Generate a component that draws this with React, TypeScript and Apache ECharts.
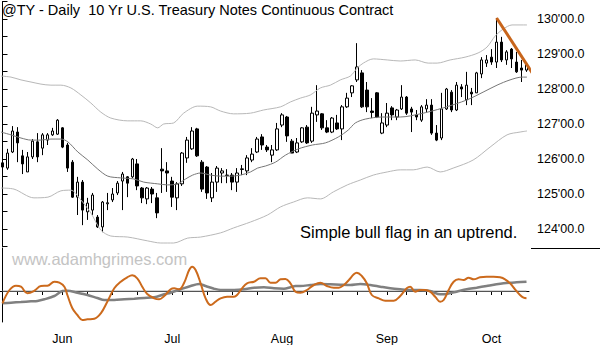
import React, { useEffect, useRef } from "react";
import * as echarts from "echarts";

// ---- daily bars (index 0 = first visible session) ----
const barOpen = [
  125.89, 125.74, 126.2, 126.77, 126.09, 125.63, 126.06, 126.49, 126.31, 126.54,
  126.69, 126.71, 126.89, 126.4, 125.91, 124.91, 125.34, 124.49, 124.54, 124.34,
  124.06, 124.72, 124.83, 125.03, 125.37, 125.49, 125.49, 125.86, 125.17, 124.86,
  125.14, 124.89, 125.71, 125.66, 125.37, 124.89, 125.29, 126.03, 126.29, 126.86,
  125.91, 125.77, 124.89, 125.34, 125.6, 125.54, 125.54, 125.34, 125.7, 125.66,
  125.97, 126.2, 126.63, 126.34, 126.11, 126.26, 126.97, 127.2, 126.51, 126.2,
  126.49, 126.91, 126.51, 127.26, 127.29, 126.89, 126.77, 127.03, 126.86, 127.49,
  127.89, 128.26, 128.46, 127.97, 127.37, 127.89, 126.74, 126.97, 127.46, 127.2,
  127.43, 127.77, 127.43, 127.26, 127.11, 127.43, 127.54, 126.74, 126.6, 127.43,
  127.91, 127.4, 128.06, 127.69, 127.91, 127.89, 128.43, 128.74, 128.91, 128.77,
  129.34, 128.83, 129.14, 128.77, 128.6, 128.54,
];
const barClose = [
  125.77, 126.17, 126.8, 126.46, 125.86, 126.06, 126.51, 126.06, 126.69, 126.69,
  126.8, 127.11, 126.34, 125.74, 124.91, 125.34, 124.54, 124.74, 124.97, 124.06,
  124.77, 124.75, 125.0, 125.31, 125.57, 125.31, 126.0, 125.23, 124.89, 125.17,
  125.0, 124.46, 125.66, 125.6, 124.91, 125.29, 126.17, 126.54, 126.8, 126.09,
  125.14, 125.03, 125.34, 125.74, 125.66, 125.53, 125.34, 125.6, 125.72, 126.03,
  126.14, 126.57, 126.4, 126.26, 126.26, 126.86, 127.26, 126.66, 126.17, 126.46,
  126.89, 126.46, 127.31, 127.37, 126.89, 126.77, 127.17, 126.86, 127.49, 127.74,
  128.09, 128.63, 127.49, 127.49, 127.33, 127.2, 127.03, 127.31, 127.26, 127.4,
  127.77, 127.31, 127.34, 127.2, 127.49, 127.54, 126.74, 126.54, 127.43, 128.0,
  127.4, 128.11, 128.0, 128.11, 127.86, 128.46, 128.83, 128.83, 128.77, 129.34,
  128.83, 129.06, 128.86, 128.49, 128.54, 128.69,
];
const barLow = [
  125.69, 125.69, 126.17, 125.91, 125.57, 125.63, 126.0, 125.91, 126.11, 126.4,
  126.66, 126.69, 126.31, 125.63, 124.89, 124.4, 124.11, 124.26, 124.4, 124.03,
  123.91, 124.54, 124.77, 124.97, 124.54, 124.91, 125.46, 125.11, 124.74, 124.71,
  124.74, 124.31, 125.03, 125.06, 124.63, 124.54, 125.23, 125.89, 126.26, 126.06,
  125.06, 124.86, 124.77, 125.06, 125.31, 125.31, 125.11, 125.06, 125.54, 125.54,
  125.91, 126.17, 126.26, 126.2, 125.91, 126.23, 126.91, 126.49, 126.17, 126.17,
  126.46, 126.43, 126.46, 127.06, 126.83, 126.74, 126.74, 126.83, 126.54, 127.46,
  127.77, 128.2, 127.46, 127.34, 127.17, 127.17, 126.71, 126.91, 127.11, 127.11,
  127.4, 127.26, 126.77, 127.11, 127.06, 127.34, 126.69, 126.51, 126.54, 127.4,
  127.34, 127.37, 127.77, 127.54, 127.54, 127.89, 128.31, 128.63, 128.69, 128.6,
  128.77, 128.69, 128.6, 128.46, 128.2, 128.49,
];
const barHigh = [
  126.11, 126.29, 126.94, 126.91, 126.26, 126.2, 126.57, 126.74, 126.74, 126.74,
  126.89, 127.14, 126.91, 126.46, 125.97, 125.49, 125.4, 124.89, 125.03, 124.4,
  124.8, 125.03, 125.17, 125.37, 125.63, 125.51, 126.03, 126.0, 125.2, 125.2,
  125.2, 125.03, 126.31, 125.91, 125.49, 125.34, 126.2, 126.63, 126.91, 126.89,
  125.97, 125.8, 125.6, 125.8, 125.74, 125.71, 125.6, 125.74, 125.83, 126.11,
  126.31, 126.63, 126.71, 126.4, 126.4, 127.03, 127.31, 127.23, 126.57, 126.6,
  126.91, 126.97, 127.49, 128.11, 127.31, 127.11, 127.2, 127.26, 127.54, 127.89,
  128.11, 129.31, 128.54, 128.2, 127.74, 127.91, 127.31, 127.6, 127.51, 127.43,
  128.11, 127.8, 127.49, 127.4, 127.54, 127.71, 127.71, 126.97, 127.89, 128.03,
  127.97, 128.2, 128.14, 128.49, 128.03, 128.49, 128.91, 128.97, 129.14, 130.03,
  129.49, 129.11, 129.17, 129.06, 128.83, 128.74,
];

// ---- envelope bands and moving average: [bar index, price] ----
const upperBand = [
  [-0.3, 128.37], [1.7, 128.34], [3.7, 128.26], [5.7, 128.2], [7.7, 128.14], [9.7, 128.11],
  [11.7, 128.11], [13.7, 128.03], [15.7, 127.83], [17.7, 127.6], [19.7, 127.34], [21.7, 127.17],
  [25.1, 127.09], [27.7, 127.09], [29.7, 127.0], [31.1, 126.89], [32.3, 127.0], [34.3, 127.03],
  [36.3, 127.31], [39.1, 127.51], [41.7, 127.49], [43.7, 127.37], [46.3, 127.29], [49.7, 127.31],
  [52.3, 127.4], [55.7, 127.49], [57.7, 127.63], [59.7, 127.74], [61.7, 127.83], [63.7, 128.03],
  [65.7, 128.11], [67.7, 128.26], [69.7, 128.37], [71.1, 128.6], [72.3, 128.74], [74.3, 128.86],
  [77.1, 128.83], [79.7, 128.8], [82.7, 128.83], [85.3, 128.74], [87.1, 128.74], [89.7, 128.83],
  [92.7, 128.91], [95.3, 129.03], [97.1, 129.2], [98.7, 129.51], [100.3, 129.71], [102.1, 129.83],
  [104.1, 129.83], [105.1, 129.83],
];
const lowerBand = [
  [-0.3, 125.17], [2.3, 125.14], [6.3, 124.89], [9.1, 124.91], [11.7, 125.09], [13.7, 125.11],
  [15.7, 124.83], [17.7, 124.46], [19.7, 123.97], [21.7, 123.8], [25.1, 123.77], [29.1, 123.66],
  [31.7, 123.6], [34.3, 123.6], [37.1, 123.74], [39.7, 123.77], [43.7, 123.89], [46.3, 124.03],
  [49.7, 124.2], [53.1, 124.4], [55.7, 124.63], [58.3, 124.77], [61.1, 124.89], [63.7, 124.86],
  [66.3, 125.06], [69.1, 125.26], [71.7, 125.4], [74.3, 125.54], [77.1, 125.63], [79.7, 125.69],
  [82.3, 125.69], [85.1, 125.77], [87.7, 125.63], [90.3, 125.74], [94.3, 125.97], [97.7, 126.34],
  [101.1, 126.69], [103.7, 126.77], [105.1, 126.8],
];
const movingAvg = [
  [-0.3, 126.77], [1.7, 126.69], [3.7, 126.6], [5.7, 126.54], [7.7, 126.54], [9.7, 126.57],
  [11.7, 126.57], [13.1, 126.49], [15.1, 126.2], [17.1, 125.97], [19.1, 125.71], [21.1, 125.51],
  [23.7, 125.46], [26.3, 125.43], [28.3, 125.34], [31.1, 125.29], [33.1, 125.26], [35.1, 125.29],
  [36.7, 125.43], [38.1, 125.54], [39.7, 125.6], [41.7, 125.54], [43.7, 125.51], [45.7, 125.51],
  [47.7, 125.54], [49.7, 125.63], [51.1, 125.74], [52.7, 125.8], [54.7, 125.91], [56.7, 126.11],
  [59.3, 126.29], [62.1, 126.4], [64.7, 126.46], [67.3, 126.63], [69.3, 126.83], [70.7, 127.03],
  [72.7, 127.14], [76.1, 127.2], [79.7, 127.2], [83.7, 127.29], [88.3, 127.46], [93.1, 127.69],
  [96.3, 127.91], [99.1, 128.11], [101.7, 128.26], [104.1, 128.34], [105.1, 128.34],
];
// flag trend line drawn from the swing high
const flagLine = [[99, 130.03], [106.3, 128.43]];

// ---- oscillator panel: [bar index, value] ----
const oscFast = [
  [0, -12.3], [1.4, 1], [2.7, 5.3], [3.7, 4.3], [5, -2.3], [6.4, 0.3], [7.7, 5], [9, 5.3],
  [10.4, 9.3], [11.4, 8.3], [12.4, 4.3], [13, -4], [14, -17.3], [15, -24], [16, -29], [17, -28.3],
  [18.4, -27.7], [19.7, -22.3], [21, -10.7], [22.4, 2.7], [23.7, 9.3], [25, 13.7], [26, 15.7],
  [27, 12.7], [28, 4.3], [29, -3], [30.4, -7.3], [31.4, -8.3], [32.4, -5], [33.7, 1.7],
  [34.4, 2.7], [35.4, 1.7], [36.4, 8.3], [37.4, 21], [38, 24.3], [38.7, 21], [39.7, 7.7],
  [40.7, -7.3], [41.7, -14], [42.7, -10.7], [43.7, -7.3], [45, -5.7], [46.4, -5.7], [47, -4],
  [48, 2.7], [49, 7.7], [50.4, 9.3], [51.7, 12.7], [52.7, 12.7], [53.7, 8.3], [54.7, 8.3],
  [55.7, 11.7], [56.7, 12], [57.7, 7.7], [58.7, -0.7], [59.7, -1.7], [61, 1], [62.4, 6],
  [63.7, 8.3], [65, 5], [66.4, 3.3], [67.4, 3.3], [68.4, 6], [69.4, 11], [70.4, 16.7], [71, 18.3],
  [72, 15], [73, 7.7], [74, -4], [75.4, -7.3], [76.7, -9.7], [78.4, -9.7], [79.7, -5], [81, 2.7],
  [81.7, 4.3], [82.7, -0.7], [83.7, 1], [84.7, 1], [85.7, -0.7], [86.7, -5.7], [87.7, -10.7],
  [88.4, -9], [89.4, 1], [90.4, 9.3], [91.4, 11.7], [92.4, 11], [93.4, 13.3], [94.4, 11.7],
  [95.7, 13.7], [97, 14.3], [98.4, 14.3], [99.7, 13.7], [100.7, 11.7], [101.7, 7.7], [102.7, 1.7],
  [103.7, -4], [104.4, -6.7], [105, -7.3],
];
const oscSlow = [
  [0, -12.3], [1.7, -11.7], [3.7, -11], [5.7, -10.3], [7, -10], [8.4, -8.3], [10.4, -5], [12, 0],
  [13, 0.3], [15, -1.7], [17, -4], [19, -7], [20.4, -9], [22.4, -9], [24.4, -8.3], [26.4, -7.7],
  [28.4, -7], [30.4, -6.3], [32.4, -3.3], [33.7, -1.7], [35.7, 1.7], [37.7, 5], [39.4, 7],
  [40.7, 5], [42.4, 2.3], [43.7, 1], [46.4, 1], [48.4, 1.7], [50.4, 3.3], [52.4, 3.7], [54.4, 2.7],
  [56.4, 2.3], [57.7, 3.7], [58.7, 5], [59.7, 5], [61.7, 6], [63.7, 7], [65.7, 6.7], [67.7, 6.3],
  [69.7, 6], [71.7, 7], [73.7, 6], [75.7, 4.3], [77.7, 2.7], [79.7, 1.7], [81.7, 1], [83.7, 1],
  [85.7, 0], [87.7, -3.3], [89, -3], [91, -0.7], [93, 1.7], [95, 3.3], [97, 5], [99, 6.7],
  [100.4, 7.7], [101.7, 8.3], [103, 8.7], [105, 9.3],
];
const oscRefLevel = 0;

// ---- time axis ----
const barCount = 106;
const monthNames = ["Jun", "Jul", "Aug", "Sep", "Oct"];
const monthStartIdx = [12, 34, 56, 77, 98];
const weekTickIdx = [3, 8, 12, 17, 22, 27, 34, 36, 41, 46, 51, 56, 61, 66, 71, 77, 81, 85, 90, 95, 98, 100];
const priceLabelSuffix = "'00.0";

const FONT = "Liberation Sans, Arial, sans-serif";

export default function App() {
  const ref = useRef<HTMLDivElement>(null);
  useEffect(() => {
    if (!ref.current) return;
    const chart = echarts.init(ref.current, undefined, { renderer: "svg" });
    const cats = Array.from({ length: barCount }, (_, i) => "d" + i);
    const tickSet = new Set(weekTickIdx);
    const monthMap = new Map<number, string>();
    monthStartIdx.forEach((idx, k) => monthMap.set(idx, monthNames[k]));
    const candles = barOpen.map((o, i) => [o, barClose[i], barLow[i], barHigh[i]]);
    const lastIdx = barCount - 1;

    const option: any = {
      animation: false,
      backgroundColor: "#ffffff",
      grid: [
        { left: -1, top: 1.5, width: 530, height: 245 },
        { left: -1, top: 248, width: 530, height: 74 },
      ],
      xAxis: [
        { type: "category", gridIndex: 0, data: cats, show: false, boundaryGap: true },
        { type: "value", gridIndex: 0, min: -0.5, max: barCount - 0.5, show: false },
        {
          type: "category",
          gridIndex: 1,
          data: cats,
          boundaryGap: true,
          axisLine: { show: true, lineStyle: { color: "#000", width: 1 } },
          axisTick: {
            show: true,
            alignWithLabel: true,
            length: 4,
            interval: (i: number) => tickSet.has(i),
            lineStyle: { color: "#000" },
          },
          axisLabel: {
            interval: (i: number) => monthMap.has(i),
            formatter: (_v: string, i: number) => monthMap.get(i) ?? "",
            color: "#000",
            fontSize: 12.5,
            fontFamily: FONT,
            margin: 10,
          },
          splitLine: { show: false },
        },
        { type: "value", gridIndex: 1, min: -0.5, max: barCount - 0.5, show: false },
      ],
      yAxis: [
        {
          type: "value",
          gridIndex: 0,
          position: "right",
          offset: 2,
          min: 123.5,
          max: 130.5,
          interval: 0.5,
          axisLine: { show: true, lineStyle: { color: "#000", width: 1 } },
          axisTick: { show: true, length: 5, lineStyle: { color: "#000" } },
          axisLabel: {
            formatter: (v: number) => (Number.isInteger(v) ? `${v}${priceLabelSuffix}` : ""),
            color: "#000",
            fontSize: 12.5,
            fontFamily: FONT,
            margin: 6,
          },
          splitLine: { show: false },
        },
        {
          type: "value",
          gridIndex: 1,
          position: "right",
          offset: 2,
          min: -31,
          max: 43,
          axisLine: { show: true, lineStyle: { color: "#000", width: 1 } },
          axisTick: { show: false },
          axisLabel: { show: false },
          splitLine: { show: false },
        },
      ],
      series: [
        {
          type: "line", xAxisIndex: 1, yAxisIndex: 0, data: upperBand, symbol: "none", smooth: 0.3,
          lineStyle: { color: "#b8b8b8", width: 1 }, silent: true,
        },
        {
          type: "line", xAxisIndex: 1, yAxisIndex: 0, data: lowerBand, symbol: "none", smooth: 0.3,
          lineStyle: { color: "#b8b8b8", width: 1 }, silent: true,
        },
        {
          type: "line", xAxisIndex: 1, yAxisIndex: 0, data: movingAvg, symbol: "none", smooth: 0.3,
          lineStyle: { color: "#777777", width: 1 }, silent: true,
        },
        {
          type: "candlestick",
          xAxisIndex: 0,
          yAxisIndex: 0,
          data: candles,
          barWidth: 3,
          itemStyle: {
            color: "#ffffff",
            color0: "#000000",
            borderColor: "#000000",
            borderColor0: "#000000",
            borderWidth: 1,
          },
          silent: true,
        },
        {
          type: "line", xAxisIndex: 1, yAxisIndex: 0, data: flagLine, symbol: "none", clip: false,
          lineStyle: { color: "#c8651b", width: 3 }, silent: true, z: 5,
        },
        {
          type: "line", xAxisIndex: 3, yAxisIndex: 1,
          data: [[0, oscRefLevel], [lastIdx, oscRefLevel]], symbol: "none",
          lineStyle: { color: "#a8a8a8", width: 1 }, silent: true,
        },
        {
          type: "line", xAxisIndex: 3, yAxisIndex: 1, data: oscSlow, symbol: "none", smooth: 0.3,
          lineStyle: { color: "#808080", width: 2.5 }, silent: true,
        },
        {
          type: "line", xAxisIndex: 3, yAxisIndex: 1, data: oscFast, symbol: "none", smooth: 0.4,
          lineStyle: { color: "#cc6a1c", width: 2 }, silent: true,
        },
      ],
      graphic: [
        {
          type: "text", left: 2, top: 2,
          style: {
            text: "@TY - Daily\u00a0 10 Yr U.S. Treasury Notes Continuous Contract",
            fill: "#000", font: `14.5px ${FONT}`,
          },
        },
        {
          type: "text", left: 12, top: 250,
          style: { text: "www.adamhgrimes.com", fill: "#c4c4c4", font: `16.5px ${FONT}` },
        },
        {
          type: "text", left: 300, top: 223,
          style: { text: "Simple bull flag in an uptrend.", fill: "#000", font: `16.5px ${FONT}` },
        },
        {
          type: "line", shape: { x1: 531, y1: 248.5, x2: 600, y2: 248.5 },
          style: { stroke: "#000", lineWidth: 1 },
        },
      ],
    };
    chart.setOption(option);
    return () => chart.dispose();
  }, []);
  return (
    <div
      ref={ref}
      style={{ position: "absolute", left: 0, top: 0, width: 600, height: 345, background: "#fff" }}
    />
  );
}
